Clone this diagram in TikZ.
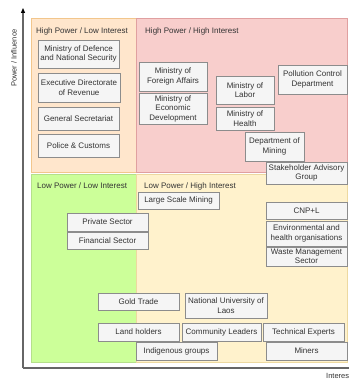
\documentclass[tikz,border=0pt]{standalone}
\usepackage{fontspec}
\setmainfont{Liberation Sans}
\usetikzlibrary{arrows.meta}
\definecolor{txt}{HTML}{333333}
\definecolor{boxfill}{HTML}{F5F5F5}
\definecolor{boxline}{HTML}{8C8C8C}
\definecolor{orfill}{HTML}{FFE6CC}
\definecolor{orline}{HTML}{F2C68C}
\definecolor{rdfill}{HTML}{F8CECC}
\definecolor{rdline}{HTML}{E0A0A0}
\definecolor{grfill}{HTML}{CCFF99}
\definecolor{grline}{HTML}{B5E08A}
\definecolor{ylfill}{HTML}{FFF2CC}
\definecolor{ylline}{HTML}{EDD9A0}
\tikzset{
  quad/.style={line width=0.9pt},
  qtitle/.style={anchor=west, inner sep=0pt, text=txt, font=\fontsize{8}{9.5}\selectfont},
  sbox/.style={draw=boxline, fill=boxfill, line width=0.9pt, text=txt,
    font=\fontsize{8}{9.5}\selectfont, align=center, inner sep=0pt},
  axisline/.style={draw=gray!80!black, line width=1.1pt},
}
% stakeholder box: name, centre x, centre y, width, height, text
\newcommand{\stakebox}[6]{\node[sbox, minimum width=#4pt, minimum height=#5pt] (#1) at (#2,#3) {#6};}
\begin{document}
\begin{tikzpicture}[x=1pt, y=-1pt]
\useasboundingbox (0,0) rectangle (348,379);

% quadrants
\draw[quad, draw=orline, fill=orfill] (31,18) rectangle (136,172.5);
\draw[quad, draw=rdline, fill=rdfill] (136,18) rectangle (347,172.5);
\draw[quad, draw=grline, fill=grfill] (31,174) rectangle (136,362);
\draw[quad, draw=ylline, fill=ylfill] (136,174) rectangle (347,362);

\node[qtitle] (t1) at (36,31) {High Power / Low Interest};
\node[qtitle] (t2) at (145,31) {High Power / High Interest};
\node[qtitle] (t3) at (37,186) {Low Power / Low Interest};
\node[qtitle] (t4) at (144,186) {Low Power / High Interest};

% axes
\coordinate (origin) at (23,368);
\coordinate (ytop) at (23,8);
\coordinate (xend) at (356,368);
\draw[axisline, -{Triangle[length=5pt,width=4pt,black]}] (origin) -- (ytop);
\draw[axisline, -{Triangle[length=5pt,width=4pt,black]}] (origin) -- (xend);
\node[rotate=90, text=txt, font=\fontsize{7.5}{9}\selectfont, inner sep=0pt] (plabel) at (14,58) {Power / Influence};
\node[anchor=west, text=txt, font=\fontsize{7.5}{9}\selectfont, inner sep=0pt] (ilabel) at (326,376) {Interest};

% high power / low interest
\stakebox{def}{78.5}{54}{81}{28}{Ministry of Defence\\and National Security}
\stakebox{rev}{79}{87.5}{82}{29}{Executive Directorate\\of Revenue}
\stakebox{gen}{78.5}{118.5}{81}{23}{General Secretariat}
\stakebox{pol}{78.5}{145.5}{81}{23}{Police \& Customs}

% high power / high interest
\stakebox{mfa}{173}{76.5}{68}{29}{Ministry of\\Foreign Affairs}
\stakebox{med}{173}{108.5}{68}{31}{Ministry of\\Economic\\Development}
\stakebox{mol}{245}{90}{58}{28}{Ministry of\\Labor}
\stakebox{moh}{245}{118.5}{58}{23}{Ministry of\\Health}
\stakebox{pcd}{312.5}{79.5}{69}{29}{Pollution Control\\Department}
\stakebox{dom}{274.5}{146.5}{59}{29}{Department of\\Mining}
\stakebox{sag}{306.5}{173}{81}{22}{Stakeholder Advisory\\Group}

% low power quadrants
\stakebox{lsm}{178.5}{200.5}{81}{17}{Large Scale Mining}
\stakebox{ps}{107.5}{222}{81}{18}{Private Sector}
\stakebox{fs}{107.5}{240.5}{81}{17}{Financial Sector}
\stakebox{cnp}{306.5}{210.5}{81}{17}{CNP+L}
\stakebox{env}{306.5}{233.5}{81}{25}{Environmental and\\health organisations}
\stakebox{wms}{306.5}{256.5}{81}{19}{Waste Management\\Sector}
\stakebox{gold}{138.5}{302}{81}{17}{Gold Trade}
\stakebox{nul}{226}{305.5}{82}{25}{National University of\\Laos}
\stakebox{land}{138.5}{332}{81}{18}{Land holders}
\stakebox{com}{221.5}{332}{79}{18}{Community Leaders}
\stakebox{tech}{303.5}{332}{81}{18}{Technical Experts}
\stakebox{ind}{176.5}{351}{81}{18}{Indigenous groups}
\stakebox{min}{306.5}{351}{81}{18}{Miners}
\end{tikzpicture}
\end{document}
